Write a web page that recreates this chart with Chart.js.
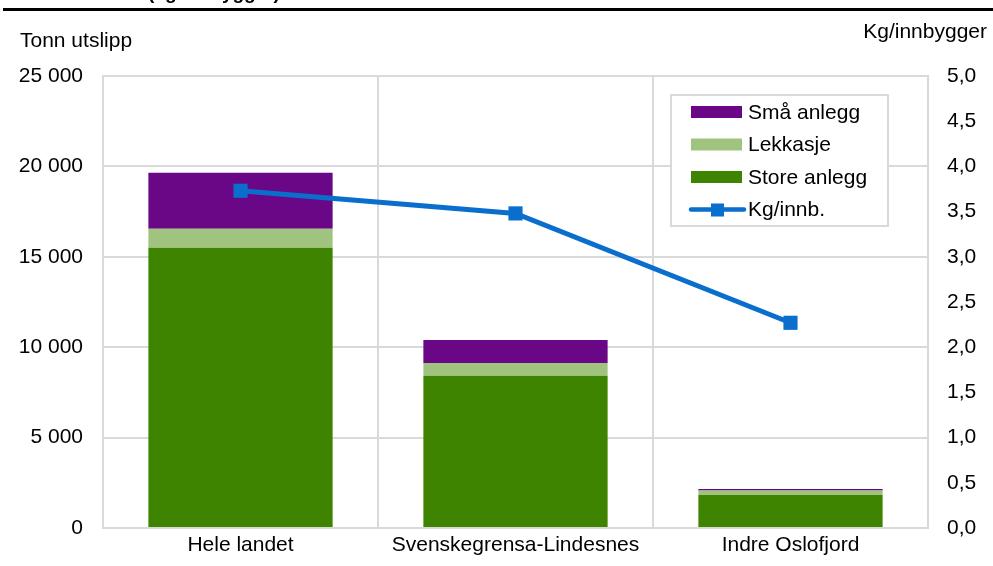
<!DOCTYPE html>
<html>
<head>
<meta charset="utf-8">
<script src="https://cdn.jsdelivr.net/npm/chart.js@4"></script>
<style>
  html, body { margin: 0; padding: 0; background: #fff; }
  #wrap { width: 993px; height: 566px; }
</style>
</head>
<body>
<div id="wrap"><canvas id="chart" width="993" height="566"></canvas></div>
<script>
const categories = ['Hele landet', 'Svenskegrensa-Lindesnes', 'Indre Oslofjord'];
const storeAnlegg = [15500, 8420, 1830];
const lekkasje = [1050, 700, 240];
const smaAnlegg = [3100, 1280, 90];
const kgPerInnb = [3.73, 3.48, 2.27];

const FONT = "'Liberation Sans', Arial, sans-serif";
const GRID = '#d9d9d9';

function thousands(v) {
    return String(v).replace(/\B(?=(\d{3})+(?!\d))/g, ' ');
}

// title line, axis titles and the legend box inside the plot
const decorations = {
    id: 'decorations',
    afterDraw(chart) {
        const ctx = chart.ctx;
        ctx.save();
        ctx.fillStyle = '#000';
        ctx.font = 'bold 19px ' + FONT;
        ctx.textBaseline = 'alphabetic';
        ctx.textAlign = 'left';
        ctx.fillText('(kg/innbygger)', 148, -1);
        ctx.fillRect(3, 8, 990, 3);

        ctx.font = '21px ' + FONT;
        ctx.fillText('Tonn utslipp', 20, 47);
        ctx.textAlign = 'right';
        ctx.fillText('Kg/innbygger', 987, 38);

        // legend
        ctx.fillStyle = '#fff';
        ctx.fillRect(671, 95, 217, 131);
        ctx.strokeStyle = GRID;
        ctx.lineWidth = 2;
        ctx.strokeRect(671, 95, 217, 131);

        const ds = chart.data.datasets;
        const rows = [ds[2], ds[1], ds[0], ds[3]];
        ctx.textAlign = 'left';
        ctx.textBaseline = 'middle';
        ctx.font = '21px ' + FONT;
        rows.forEach((d, i) => {
            const y = 112 + i * 32.5;
            if (d.type === 'line') {
                ctx.strokeStyle = d.borderColor;
                ctx.lineWidth = 4.5;
                ctx.lineCap = 'round';
                ctx.beginPath();
                ctx.moveTo(691, y);
                ctx.lineTo(744, y);
                ctx.stroke();
                ctx.fillStyle = d.pointBackgroundColor;
                ctx.fillRect(711, y - 6, 13, 13);
            } else {
                ctx.fillStyle = d.backgroundColor;
                ctx.fillRect(691, y - 6, 51, 12);
            }
            ctx.fillStyle = '#000';
            ctx.fillText(d.label, 748, y + 1);
        });
        ctx.restore();
    }
};

new Chart(document.getElementById('chart'), {
    type: 'bar',
    data: {
        labels: categories,
        datasets: [
            { label: 'Store anlegg', data: storeAnlegg, backgroundColor: '#3f8400', stack: 's', order: 1 },
            { label: 'Lekkasje', data: lekkasje, backgroundColor: '#a0c47f', stack: 's', order: 1 },
            { label: 'Små anlegg', data: smaAnlegg, backgroundColor: '#690786', stack: 's', order: 1 },
            {
                type: 'line', label: 'Kg/innb.', data: kgPerInnb, yAxisID: 'y1', order: 0,
                borderColor: '#0a6fcc', borderWidth: 5, pointStyle: 'rect', pointRadius: 10,
                pointBackgroundColor: '#0a6fcc', pointBorderWidth: 0, tension: 0
            }
        ]
    },
    options: {
        responsive: false,
        devicePixelRatio: 1,
        animation: false,
        layout: { padding: { top: 76, left: 0, right: 0, bottom: 0 } },
        datasets: { bar: { barPercentage: 0.67, categoryPercentage: 1 } },
        plugins: { legend: { display: false }, tooltip: { enabled: false }, title: { display: false } },
        scales: {
            x: {
                stacked: true,
                grid: { color: GRID, lineWidth: 2, drawTicks: false, offset: true },
                border: { color: GRID, width: 2 },
                ticks: { color: '#000', font: { family: FONT, size: 21 }, padding: 5, maxRotation: 0 },
                afterFit(s) { s.height = 38; }
            },
            y: {
                stacked: true,
                position: 'left',
                min: 0, max: 25000,
                grid: { color: GRID, lineWidth: 2, drawTicks: false },
                border: { color: GRID, width: 2 },
                ticks: { stepSize: 5000, color: '#000', font: { family: FONT, size: 21 }, padding: 20, callback: v => thousands(v) },
                afterFit(s) { s.width = 103; }
            },
            y1: {
                position: 'right',
                min: 0, max: 5,
                grid: { display: false, drawTicks: false },
                border: { color: GRID, width: 2 },
                ticks: { stepSize: 0.5, color: '#000', font: { family: FONT, size: 21 }, padding: 19, callback: v => v.toFixed(1).replace('.', ',') },
                afterFit(s) { s.width = 65; }
            }
        }
    },
    plugins: [decorations]
});
</script>
</body>
</html>
